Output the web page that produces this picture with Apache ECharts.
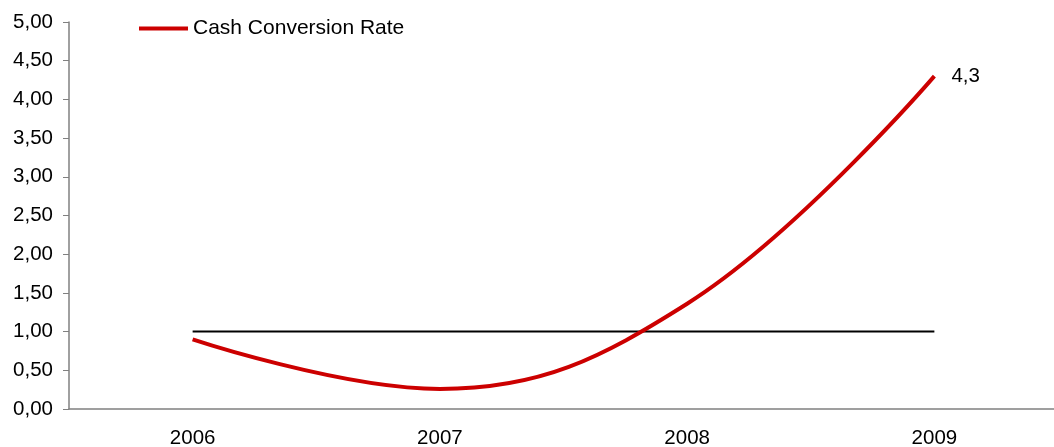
<!DOCTYPE html>
<html>
<head>
<meta charset="utf-8">
<script src="https://cdn.jsdelivr.net/npm/echarts@6/dist/echarts.min.js"></script>
<style>
html, body { margin: 0; padding: 0; background: #fff; }
#main { width: 1054px; height: 447px; }
</style>
</head>
<body>
<div id="main"></div>
<script>
var years = ['2006', '2007', '2008', '2009'];
var cashConversion = [0.9, 0.26, 1.36, 4.3];
var benchmark = [1, 1, 1, 1];

var fmt = function (v) { return v.toFixed(2).replace('.', ','); };

var option = {
    animation: false,
    textStyle: { fontFamily: 'Liberation Sans, Arial, sans-serif' },
    legend: {
        data: ['Cash Conversion Rate'],
        left: 134,
        top: 13,
        itemWidth: 49,
        itemHeight: 4,
        itemGap: 3,
        icon: 'rect',
        textStyle: { fontSize: 21, color: '#000' }
    },
    grid: {
        left: 69,
        top: 22,
        width: 989,
        bottom: 38,
        outerBoundsMode: 'none'
    },
    xAxis: {
        type: 'category',
        data: years,
        boundaryGap: true,
        axisLine: { lineStyle: { color: '#808080', width: 1.5 } },
        axisTick: { length: 6, lineStyle: { color: '#808080' } },
        axisLabel: { fontSize: 20.5, color: '#000', margin: 19 },
        splitLine: { show: false }
    },
    yAxis: {
        type: 'value',
        min: 0,
        max: 5,
        interval: 0.5,
        axisLine: { show: true, lineStyle: { color: '#808080', width: 1.5 } },
        axisTick: { show: true, length: 6, lineStyle: { color: '#808080' } },
        axisLabel: { fontSize: 20.5, color: '#000', margin: 16, formatter: fmt },
        splitLine: { show: false }
    },
    series: [
        {
            name: 'Benchmark',
            type: 'line',
            data: benchmark,
            symbol: 'none',
            lineStyle: { color: '#000', width: 2 },
            z: 1
        },
        {
            name: 'Cash Conversion Rate',
            type: 'line',
            data: cashConversion,
            smooth: 0.4,
            symbol: 'none',
            color: '#cc0000',
            lineStyle: { color: '#cc0000', width: 4 },
            z: 2,
            endLabel: {
                show: true,
                formatter: function (p) { return String(p.value).replace('.', ','); },
                fontSize: 20.5,
                color: '#000',
                offset: [9, 0]
            }
        }
    ]
};

var myChart = echarts.init(document.getElementById('main'));
myChart.setOption(option);
</script>
</body>
</html>
